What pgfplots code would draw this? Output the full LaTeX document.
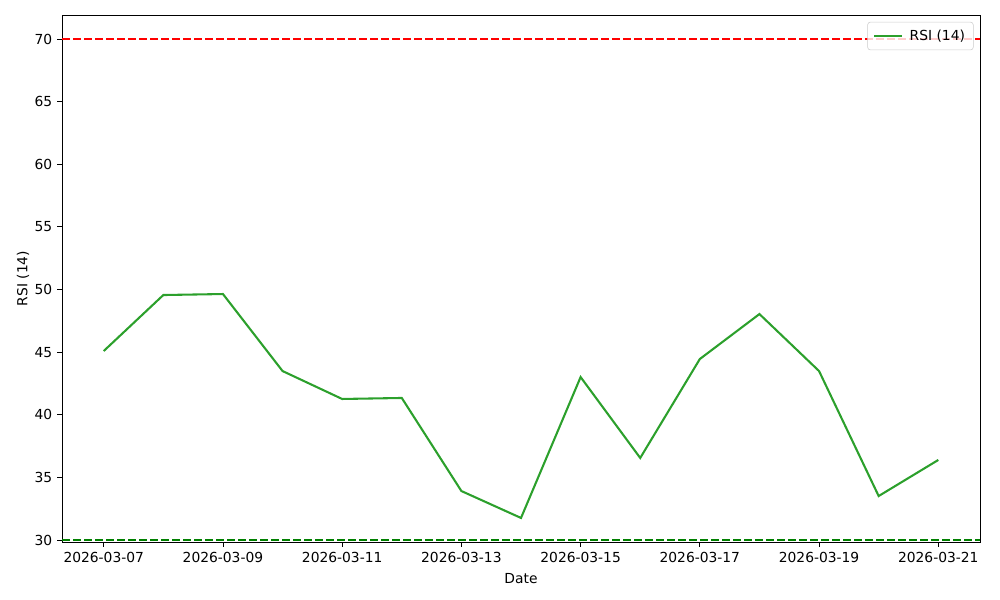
\documentclass[border=0pt]{standalone}
\usepackage{pgfplots}
\pgfplotsset{compat=1.18}
\usepackage{fontspec}
\setmainfont{DejaVu Sans}
\definecolor{tabgreen}{HTML}{2CA02C}
\definecolor{mplgreen}{rgb}{0,0.5,0}
\begin{document}
\begin{tikzpicture}
\path[use as bounding box] (0in,0in) rectangle (10in,6in);
\begin{axis}[
  at={(0.62in,0.58in)}, anchor=south west,
  scale only axis, width=9.18in, height=5.27in,
  xmin=-0.7, xmax=14.7, ymin=29.84, ymax=71.92,
  xtick={0,2,4,6,8,10,12,14},
  xticklabels={2026-03-07,2026-03-09,2026-03-11,2026-03-13,2026-03-15,2026-03-17,2026-03-19,2026-03-21},
  ytick={30,35,40,45,50,55,60,65,70},
  tick align=outside, tick pos=left,
  major tick length=3.5pt,
  every tick/.style={black, line width=0.6pt},
  axis line style={line width=0.6pt},
  /pgf/number format/assume math mode=true,
  tick label style={font=\fontsize{10}{12}\selectfont},
  xlabel={Date}, ylabel={RSI (14)},
  label style={font=\fontsize{10}{12}\selectfont},
  xlabel style={yshift=-1pt},
  ylabel style={yshift=-3pt},
  legend style={at={(0.993,0.987)}, anchor=north east, font=\fontsize{10}{12}\selectfont,
    draw=black!20, fill=white, fill opacity=0.8, text opacity=1, rounded corners=2pt,
    inner xsep=4pt, inner ysep=3.5pt},
  legend cell align=left,
  legend image code/.code={\draw[#1] (0cm,0cm) -- (0.7cm,0cm);},
]
\addplot[red, line width=1.5pt, dash pattern=on 5.55pt off 2.4pt, forget plot] coordinates {(-0.7,70) (14.7,70)};
\addplot[mplgreen, line width=1.5pt, dash pattern=on 5.55pt off 2.4pt, forget plot] coordinates {(-0.7,30) (14.7,30)};
\addplot[tabgreen, line width=1.5pt] coordinates {
(0,45.09) (1,49.56) (2,49.64) (3,43.49) (4,41.26) (5,41.34) (6,33.91) (7,31.76)
(8,43.01) (9,36.55) (10,44.45) (11,48.04) (12,43.49) (13,33.51) (14,36.39)};
\addlegendentry{\hspace{3pt}RSI (14)}
\end{axis}
\end{tikzpicture}
\end{document}
